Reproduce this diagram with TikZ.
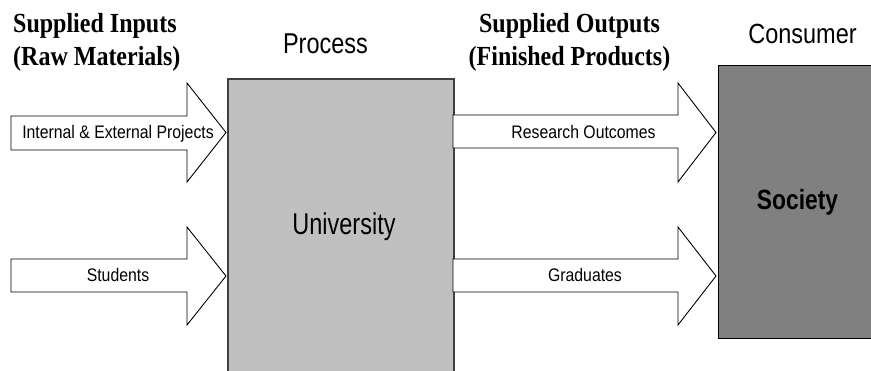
\documentclass[tikz,border=0pt]{standalone}
\usepackage{fontspec}
\setmainfont{Liberation Sans}
\newfontfamily\timesf{Liberation Serif}
\definecolor{univgray}{HTML}{C0C0C0}
\definecolor{socgray}{HTML}{808080}
\definecolor{univedge}{HTML}{404040}
\tikzset{
  blockarrow/.style={draw=black, line width=0.9pt, fill=white, line join=miter},
  lbl/.style={font=\fontsize{15.8}{18}\selectfont, inner sep=0pt, anchor=base},
  heading/.style={font=\timesf\bfseries\fontsize{24}{26}\selectfont, inner sep=0pt},
  title/.style={font=\fontsize{23.5}{26}\selectfont, inner sep=0pt, anchor=base},
  univbox/.style={draw=univedge, line width=1.5pt, fill=univgray, inner sep=0pt, anchor=north west},
  socbox/.style={draw=black, line width=1pt, fill=socgray, inner sep=0pt, anchor=north west},
}
\newcommand{\vst}[2]{\scalebox{1}[#1]{#2}}
\begin{document}
\begin{tikzpicture}[x=1pt,y=-1pt]
  \clip (0,0) rectangle (871,370);
  \fill[white] (0,0) rectangle (871,370);
  % boxes
  \node[univbox, minimum width=226pt, minimum height=300pt] (univ) at (227,78) {};
  \node[socbox, minimum width=170pt, minimum height=273pt] (soc) at (718,65) {};
  % block arrows
  \draw[blockarrow] (11,116) -- (187,116) -- (187,83) -- (226,132.5) -- (187,182) -- (187,150) -- (11,150) -- cycle;
  \draw[blockarrow] (11,259) -- (187,259) -- (187,227) -- (226,276) -- (187,325) -- (187,292) -- (11,292) -- cycle;
  \draw[blockarrow] (453,115) -- (678,115) -- (678,83) -- (716,132.5) -- (678,182) -- (678,148) -- (453,148) -- cycle;
  \draw[blockarrow] (453,259) -- (678,259) -- (678,227) -- (716,276) -- (678,325) -- (678,292) -- (453,292) -- cycle;
  % arrow labels
  \node[lbl] (projects) at (118,138) {\vst{1.15}{Internal \& External Projects}};
  \node[lbl] (students) at (118,281) {\vst{1.15}{Students}};
  \node[lbl] (research) at (583.5,138) {\vst{1.15}{Research Outcomes}};
  \node[lbl] (graduates) at (585,281) {\vst{1.15}{Graduates}};
  % titles
  \node[title] (process) at (325.5,53) {\vst{1.22}{Process}};
  \node[title] (consumer) at (802.5,43) {\vst{1.18}{Consumer}};
  \node[title] (university) at (344,234) {\vst{1.28}{University}};
  \node[title, font=\bfseries\fontsize{22.8}{26}\selectfont] (society) at (797.5,209) {\vst{1.22}{Society}};
  % headings
  \node[heading, anchor=base west] (inA) at (13,32) {\vst{1.15}{Supplied Inputs}};
  \node[heading, anchor=base west] (inB) at (13,65) {\vst{1.15}{(Raw Materials)}};
  \node[heading, anchor=base] (outA) at (569.5,32) {\vst{1.15}{Supplied Outputs}};
  \node[heading, anchor=base] (outB) at (569.5,65) {\vst{1.15}{(Finished Products)}};
\end{tikzpicture}
\end{document}
